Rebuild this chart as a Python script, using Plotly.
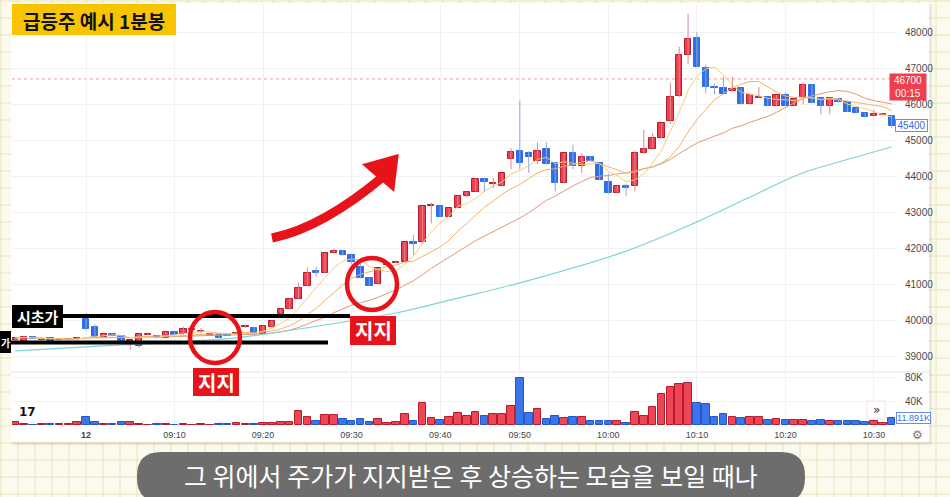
import plotly.graph_objects as go
import pandas as pd

W, H = 950, 497

# ---------------- data ----------------
bar_index = list(range(-8, 92))
opens = [
    39470, 39450, 39560, 39460, 39520, 39470, 39470, 39500,
    40050, 39830, 39560, 39625, 39580, 39430, 39300, 39620, 39580, 39520,
    39690, 39625, 39735, 39695, 39590, 39600, 39625, 39640, 39840, 39810,
    39625, 39820, 40180, 40320, 40600, 40965, 41370, 41330, 41870, 41940,
    41815, 41500, 41180, 41020, 41560, 41615, 41640, 42190, 42175, 43170,
    43180, 42885, 43130, 43465, 43575, 43930, 43780, 43735, 44480, 44700,
    44640, 44425, 44750, 44380, 43825, 44640, 44290, 44530, 44380, 43835,
    43530, 43735, 43745, 44640, 44750, 45055, 45535, 46225, 47360, 47840,
    46995, 46485, 46440, 46365, 46440, 46000, 46180, 46190, 45950, 46255,
    45950, 46210, 46530, 46160, 45950, 46145, 46050, 45885, 45745, 45680,
    45690, 45680]
highs = [
    39540, 39580, 39580, 39490, 39530, 39490, 39490, 39560,
    40216, 39900, 39640, 39640, 39600, 39450, 39640, 39690, 39600, 39700,
    39700, 39835, 39830, 39800, 39640, 39610, 39640, 39680, 39900, 39830,
    39870, 40010, 40330, 40620, 41055, 41480, 41500, 41880, 42000, 41960,
    41830, 41570, 41190, 41460, 41620, 41670, 42180, 42380, 43190, 43270,
    43190, 43120, 43470, 43580, 43940, 43965, 43960, 44090, 44780, 46100,
    44700, 44945, 44945, 44390, 44650, 44880, 44640, 44560, 44390, 44080,
    43745, 43800, 44700, 45285, 45200, 45480, 46600, 47590, 48500, 47990,
    47100, 46580, 46760, 46760, 46450, 46270, 46480, 46200, 46260, 46330,
    46150, 46600, 46540, 46170, 46200, 46160, 46060, 45895, 45760, 45850,
    45720, 45700]
lows = [
    39450, 39430, 39490, 39450, 39440, 39460, 39460, 39490,
    39740, 39540, 39550, 39580, 39440, 39200, 39250, 39600, 39510, 39510,
    39600, 39610, 39700, 39660, 39580, 39510, 39570, 39630, 39800, 39620,
    39620, 39810, 40170, 40310, 40590, 40950, 41220, 41320, 41860, 41800,
    41560, 41170, 40960, 40990, 41540, 41590, 41630, 41820, 42160, 42700,
    42880, 42870, 43120, 43410, 43570, 43575, 43680, 43725, 44200, 44200,
    44100, 44350, 44320, 43590, 43815, 44200, 44100, 44420, 43890, 43520,
    43520, 43460, 43590, 44630, 44740, 45045, 45450, 46200, 47115, 47030,
    46300, 46270, 46270, 46350, 45990, 45990, 46170, 45940, 45940, 45940,
    45940, 46000, 46030, 45720, 45720, 46040, 45780, 45740, 45630, 45670,
    45680, 45350]
closes = [
    39520, 39560, 39500, 39480, 39450, 39480, 39480, 39520,
    39760, 39560, 39625, 39590, 39450, 39440, 39630, 39630, 39520, 39690,
    39610, 39765, 39745, 39705, 39625, 39520, 39580, 39660, 39855, 39625,
    39855, 40000, 40320, 40600, 40920, 41315, 41315, 41870, 41935, 41815,
    41640, 41180, 40975, 41455, 41600, 41640, 42175, 42130, 43180, 43190,
    42885, 43115, 43465, 43575, 43930, 43855, 43800, 44085, 44685, 44380,
    44530, 44700, 44335, 43825, 44640, 44290, 44530, 44435, 43900, 43530,
    43735, 43690, 44640, 44750, 45055, 45470, 46210, 47360, 47800, 47040,
    46485, 46440, 46280, 46420, 46000, 46255, 46200, 45950, 46255, 45950,
    46145, 46530, 46040, 45950, 46160, 46050, 45790, 45745, 45635, 45727,
    45705, 45400]
volumes = [
    5600, 1700, 800, 1700, 1700, 2300, 1700, 5600,
    14000, 5600, 2300, 1700, 4500, 5100, 1700, 800, 1700, 1700,
    800, 1700, 800, 1700, 800, 1700, 1700, 4000, 1700, 1700,
    3400, 3400, 5600, 5600, 23800, 14000, 6800, 17000, 17000, 9600,
    7400, 10200, 5600, 10200, 2800, 5100, 18700, 7400, 37000, 12500,
    8500, 13000, 19800, 15900, 21600, 16000, 18000, 18000, 32000, 80500,
    21000, 28000, 11000, 15000, 12000, 13000, 13000, 7000, 7000, 6000,
    6000, 4000, 22000, 16000, 31000, 53000, 65000, 70000, 72000, 38000,
    35000, 14000, 18000, 14000, 12000, 13000, 13000, 9000, 10000, 8000,
    9000, 8000, 7000, 9000, 6000, 6000, 7000, 7000, 5000, 6000,
    3000, 11891]

# long moving average (teal) read at a few bars
ma_long_bars = [-8, 0, 17, 24, 35, 42, 49, 61, 69, 75, 81, 85, 91]
ma_long_vals = [39168, 39280, 39530, 39773, 40216, 40630, 41050, 41930,
                42740, 43430, 44100, 44400, 44815]

tick_pos = [0, 10, 20, 30, 40, 49, 59, 69, 79, 89]
tick_text = ["<b>12</b>", "09:10", "09:20", "09:30", "09:40", "09:50",
             "10:00", "10:10", "10:20", "10:30"]
price_ticks = [39000, 40000, 41000, 42000, 43000, 44000, 45000, 46000, 47000, 48000]
vol_ticks = [40000, 80000]
vol_tick_text = ["40K", "80K"]
ref_price = 46700
ref_timer = "00:15"
last_vol_text = "11.891K"

title_text = "급등주 예시 1분봉"
open_label = "시초가"
close_label = "가"
support_label = "지지"
subtitle = "그 위에서 주가가 지지받은 후 상승하는 모습을 보일 때나"

# ---------------- helpers ----------------
def px(x):
    return x / W

def py(y):
    return 1 - y / H

RED = "#ef3e4f"
RED_EDGE = "#b51d2c"
BLUE = "#2f6fe6"
RED_WICK = "#e2858f"
BLUE_WICK = "#8fa5e6"
ANN_RED = "#e8131a"

up = [c >= o for o, c in zip(opens, closes)]

body_base = [min(o, c) for o, c in zip(opens, closes)]
body_h = [max(abs(c - o), 28) for o, c in zip(opens, closes)]
body_fill = [RED if u else BLUE for u in up]
body_line = [RED_EDGE if u else BLUE for u in up]

wx_r, wy_r, wx_b, wy_b = [], [], [], []
for i, n in enumerate(bar_index):
    if up[i]:
        wx_r += [n, n, None]
        wy_r += [lows[i], highs[i], None]
    else:
        wx_b += [n, n, None]
        wy_b += [lows[i], highs[i], None]

s = pd.Series(closes)
ma5 = s.rolling(5, min_periods=1).mean()
ma10 = s.rolling(10, min_periods=1).mean()
ma20 = s.rolling(20, min_periods=1).mean()

fig = go.Figure()
fig.add_trace(go.Scatter(x=bar_index, y=ma20, mode="lines", line=dict(color="#e09a78", width=1), xaxis="x", yaxis="y", hoverinfo="skip"))
fig.add_trace(go.Scatter(x=bar_index, y=ma10, mode="lines", line=dict(color="#f2b266", width=1), xaxis="x", yaxis="y", hoverinfo="skip"))
fig.add_trace(go.Scatter(x=bar_index, y=ma5, mode="lines", line=dict(color="#f8cd7a", width=1), xaxis="x", yaxis="y", hoverinfo="skip"))
fig.add_trace(go.Scatter(x=ma_long_bars, y=ma_long_vals, mode="lines", line=dict(color="#7fd3d3", width=1.2, shape="spline", smoothing=1.0), xaxis="x", yaxis="y", hoverinfo="skip"))
fig.add_trace(go.Scatter(x=wx_r, y=wy_r, mode="lines", line=dict(color=RED_WICK, width=1), xaxis="x", yaxis="y", hoverinfo="skip"))
fig.add_trace(go.Scatter(x=wx_b, y=wy_b, mode="lines", line=dict(color=BLUE_WICK, width=1), xaxis="x", yaxis="y", hoverinfo="skip"))
fig.add_trace(go.Bar(x=bar_index, y=body_h, base=body_base, width=0.72,
                     marker=dict(color=body_fill, line=dict(color=body_line, width=1)),
                     xaxis="x", yaxis="y", hoverinfo="skip"))
fig.add_trace(go.Bar(x=bar_index, y=volumes, width=0.86,
                     marker=dict(color=["#ee4656" if u else "#3a76ea" for u in up],
                                 line=dict(color=["#b81c2a" if u else "#2458c8" for u in up], width=1)),
                     xaxis="x2", yaxis="y2", hoverinfo="skip"))

xr = [-8.36, 91.6]
xdom = [px(12), px(897)]
axis_font = dict(family="Liberation Sans, Arial, sans-serif", size=10, color="#4a4a4a")

fig.update_layout(
    width=W, height=H, margin=dict(l=0, r=0, t=0, b=0),
    paper_bgcolor="#fcfaec", plot_bgcolor="rgba(0,0,0,0)",
    showlegend=False, barmode="overlay", bargap=0,
    xaxis=dict(domain=xdom, range=xr, anchor="y", tickvals=tick_pos, showticklabels=False,
               showgrid=True, gridcolor="#f1f1f1", zeroline=False, fixedrange=True, ticks=""),
    yaxis=dict(domain=[py(372), py(4)], range=[38582, 48776], side="right", anchor="x",
               tickvals=price_ticks, ticktext=[str(p) for p in price_ticks],
               tickfont=axis_font, showgrid=True, gridcolor="#f1f1f1", zeroline=False,
               ticks="outside", ticklen=5, tickcolor="rgba(0,0,0,0)"),
    xaxis2=dict(domain=xdom, range=xr, anchor="y2", tickvals=tick_pos, ticktext=tick_text,
                tickfont=dict(family="Liberation Sans, Arial, sans-serif", size=9, color="#444"),
                showgrid=True, gridcolor="#f1f1f1", zeroline=False, ticks=""),
    yaxis2=dict(domain=[py(428), py(372)], range=[-5100, 90200], side="right", anchor="x2",
                tickvals=vol_ticks, ticktext=vol_tick_text, tickfont=axis_font,
                showgrid=True, gridcolor="#f1f1f1", zeroline=False,
                ticks="outside", ticklen=5, tickcolor="rgba(0,0,0,0)"),
)

shapes = []
step = 17.0
gp = ""
x = 1.0
while x < W:
    gp += f"M{px(x):.5f},0 L{px(x):.5f},1 "
    x += step
y = 1.0
while y < H:
    gp += f"M0,{py(y):.5f} L1,{py(y):.5f} "
    y += step
shapes.append(dict(type="path", xref="paper", yref="paper", path=gp, layer="below",
                   line=dict(color="#e9e3b9", width=1)))
shapes.append(dict(type="rect", xref="paper", yref="paper", x0=px(12), x1=px(932), y0=py(445), y1=py(4),
                   fillcolor="rgba(0,0,0,0.07)", line=dict(width=0), layer="below"))
shapes.append(dict(type="rect", xref="paper", yref="paper", x0=px(11), x1=px(929), y0=py(442), y1=py(3),
                   fillcolor="white", line=dict(width=0), layer="below"))
shapes.append(dict(type="line", xref="paper", yref="paper", x0=px(11), x1=px(929), y0=py(372), y1=py(372),
                   line=dict(color="#e2e2e2", width=1), layer="below"))
shapes.append(dict(type="line", xref="paper", yref="y", x0=px(12), x1=px(897), y0=ref_price, y1=ref_price,
                   line=dict(color="#ef9aa3", width=1, dash="dot"), layer="below"))

shapes.append(dict(type="rect", xref="paper", yref="paper", x0=px(12), x1=px(176), y0=py(35), y1=py(4),
                   fillcolor="#f8c400", line=dict(width=0)))
shapes.append(dict(type="line", xref="paper", yref="paper", x0=px(12), x1=px(350), y0=py(316), y1=py(316),
                   line=dict(color="black", width=4)))
shapes.append(dict(type="line", xref="paper", yref="paper", x0=px(0), x1=px(328), y0=py(342.5), y1=py(342.5),
                   line=dict(color="black", width=4)))
shapes.append(dict(type="rect", xref="paper", yref="paper", x0=px(12), x1=px(63), y0=py(328), y1=py(305),
                   fillcolor="black", line=dict(width=0)))
shapes.append(dict(type="rect", xref="paper", yref="paper", x0=px(-5), x1=px(11), y0=py(353), y1=py(331),
                   fillcolor="black", line=dict(width=0)))
for (x0, x1, y0, y1) in [(190, 240, 312, 363), (347, 397, 258, 310)]:
    shapes.append(dict(type="circle", xref="paper", yref="paper", x0=px(x0), x1=px(x1), y0=py(y1), y1=py(y0),
                       line=dict(color=ANN_RED, width=4.5)))
for (x0, x1, y0, y1) in [(193, 239, 368, 396), (350, 396, 316, 345)]:
    shapes.append(dict(type="rect", xref="paper", yref="paper", x0=px(x0), x1=px(x1), y0=py(y1), y1=py(y0),
                       fillcolor=ANN_RED, line=dict(width=0)))
shapes.append(dict(type="path", xref="paper", yref="paper",
                   path=f"M{px(272)},{py(238)} Q{px(322)},{py(228)} {px(384)},{py(176)}",
                   line=dict(color=ANN_RED, width=9)))
shapes.append(dict(type="path", xref="paper", yref="paper",
                   path=f"M{px(397)},{py(156)} L{px(365)},{py(165)} L{px(393)},{py(189)} Z",
                   fillcolor=ANN_RED, line=dict(color=ANN_RED, width=3)))
x0, x1, y0, y1, r = 137, 805, 452, 502, 24
pill = (f"M{px(x0+r)},{py(y0)} L{px(x1-r)},{py(y0)} Q{px(x1)},{py(y0)} {px(x1)},{py(y0+r)} "
        f"L{px(x1)},{py(y1-r)} Q{px(x1)},{py(y1)} {px(x1-r)},{py(y1)} L{px(x0+r)},{py(y1)} "
        f"Q{px(x0)},{py(y1)} {px(x0)},{py(y1-r)} L{px(x0)},{py(y0+r)} Q{px(x0)},{py(y0)} {px(x0+r)},{py(y0)} Z")
shapes.append(dict(type="path", xref="paper", yref="paper", path=pill, fillcolor="#6d6d6d",
                   line=dict(width=0)))
shapes.append(dict(type="rect", xref="paper", yref="paper", x0=px(867), x1=px(885), y0=py(419), y1=py(401),
                   fillcolor="white", line=dict(color="#e6e6e6", width=1)))
fig.update_layout(shapes=shapes)

KR = "Noto Sans CJK KR, Noto Sans, sans-serif"
C = dict(xanchor="center", yanchor="middle", showarrow=False, xref="paper", yref="paper")
ann = []
ann.append(dict(x=px(94), y=py(20), text=f"<b>{title_text}</b>",
                font=dict(family=KR, size=19, color="#111"), **C))
ann.append(dict(x=px(37.5), y=py(316.5), text=f"<b>{open_label}</b>",
                font=dict(family=KR, size=15, color="white"), **C))
ann.append(dict(x=px(5.5), y=py(342), text=f"<b>{close_label}</b>",
                font=dict(family=KR, size=10, color="white"), **C))
for (cx, cy) in [(216, 382), (373, 330.5)]:
    ann.append(dict(x=px(cx), y=py(cy), text=f"<b>{support_label}</b>",
                    font=dict(family=KR, size=20, color="white"), **C))
ann.append(dict(x=px(471), y=py(475), text=subtitle,
                font=dict(family=KR, size=25, color="white"), **C))
ann.append(dict(xref="paper", yref="y", x=px(908), y=ref_price, xanchor="center", yanchor="top", yshift=6,
                text=f"{ref_price}<br>{ref_timer}", showarrow=False, align="center",
                font=dict(family="Liberation Sans, Arial", size=10, color="white"),
                bgcolor="#ef3e4f", borderpad=1, width=34))
ann.append(dict(xref="paper", yref="y", x=px(911.5), y=closes[-1], xanchor="center", yanchor="middle",
                text=str(closes[-1]), showarrow=False,
                font=dict(family="Liberation Sans, Arial", size=10, color="#3a6ee8"),
                bgcolor="white", bordercolor="#6a8ee8", borderwidth=1, borderpad=0, width=31))
ann.append(dict(xref="paper", yref="y2", x=px(896), xanchor="left", yanchor="middle", y=volumes[-1],
                text=last_vol_text, showarrow=False,
                font=dict(family="Liberation Sans, Arial", size=9, color="#3a6ee8"),
                bgcolor="white", bordercolor="#6a8ee8", borderwidth=1, borderpad=0, width=33))
ann.append(dict(x=px(876), y=py(410), text="»",
                font=dict(family="DejaVu Sans", size=12, color="#333"), **C))
ann.append(dict(x=px(917), y=py(435), text="⚙",
                font=dict(family="DejaVu Sans", size=12, color="#777"), **C))
ann.append(dict(x=px(27), y=py(412), text="<b>17</b>",
                font=dict(family="DejaVu Sans", size=12, color="#111"), **C))
fig.update_layout(annotations=ann)

fig.write_html("out.html", config={"displayModeBar": False},
               post_script="document.body.style.margin='0px';")
